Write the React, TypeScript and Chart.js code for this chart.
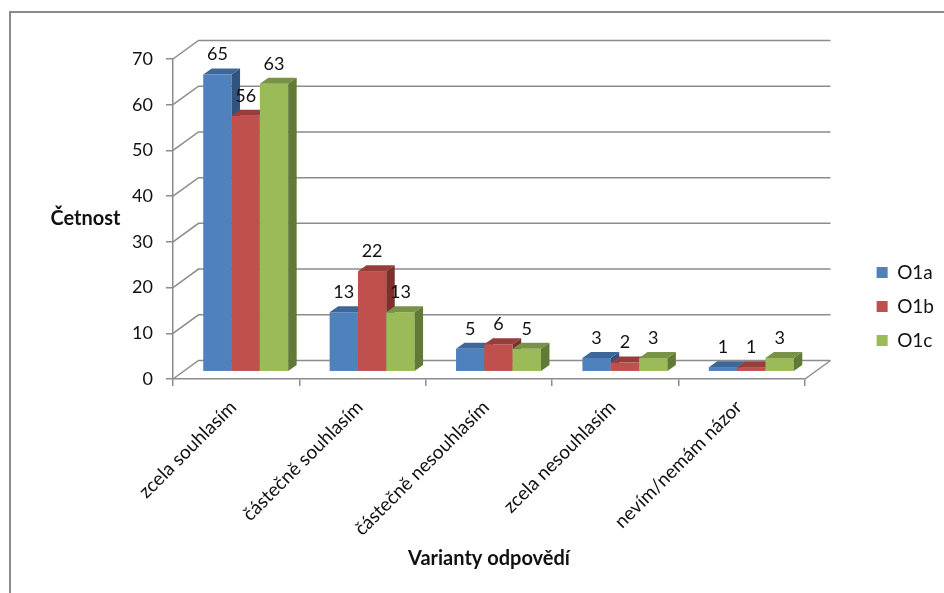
import { useEffect, useRef } from "react";
import { Chart, registerables } from "chart.js";

Chart.register(...registerables);

// ---- data ----
const categories = [
  "zcela souhlasím",
  "částečně souhlasím",
  "částečně nesouhlasím",
  "zcela nesouhlasím",
  "nevím/nemám názor",
];
const seriesLabels = ["O1a", "O1b", "O1c"];
const valuesO1a = [65, 13, 5, 3, 1];
const valuesO1b = [56, 22, 6, 2, 1];
const valuesO1c = [63, 13, 5, 3, 3];
const yMin = 0;
const yMax = 70;
const yStep = 10;
const yTitle = "Četnost";
const xTitle = "Varianty odpovědí";

// ---- styling ----
const FONT_FAMILY = "Lato, 'Noto Sans', sans-serif";
const TEXT = "#111111";
const LINE = "#8c8c8c";
const FRONT = ["#4F81BD", "#C0504D", "#9BBB59"];
const TOP = ["#3C6798", "#973D3A", "#789346"];
const SIDE = ["#31547E", "#7E302D", "#627A37"];

const WALL = { dx: 25.5, dy: -18.5 }; // floor / back wall depth
const BAR_SHIFT = { dx: 9.5, dy: -7.3 }; // columns stand inside the floor
const BAR_DEPTH = { dx: 8.5, dy: -6 }; // column thickness

const W = 944;
const H = 593;
const PLOT = { left: 173, right: 805, top: 59, bottom: 379 };
const PAD = { top: 59, right: 0, bottom: 39, left: 12 };

function fillPoly(ctx: CanvasRenderingContext2D, pts: number[][]) {
  ctx.beginPath();
  ctx.moveTo(pts[0][0], pts[0][1]);
  for (let i = 1; i < pts.length; i++) ctx.lineTo(pts[i][0], pts[i][1]);
  ctx.closePath();
  ctx.fill();
}

const columns3d = {
  id: "columns3d",
  beforeDraw(chart: any) {
    const ctx: CanvasRenderingContext2D = chart.ctx;
    ctx.save();
    ctx.fillStyle = "#ffffff";
    ctx.fillRect(0, 0, chart.width, chart.height);
    ctx.strokeStyle = "#8a8a8a";
    ctx.lineWidth = 2;
    ctx.beginPath();
    ctx.moveTo(10, chart.height);
    ctx.lineTo(10, 12);
    ctx.lineTo(chart.width, 12);
    ctx.stroke();
    ctx.restore();
  },
  beforeDatasetsDraw(chart: any) {
    const ctx: CanvasRenderingContext2D = chart.ctx;
    const xs = chart.scales.x;
    const ys = chart.scales.y;
    ctx.save();

    // back wall gridlines with their diagonals on the side wall
    ctx.strokeStyle = LINE;
    ctx.lineWidth = 1.5;
    for (const t of ys.ticks) {
      const py = ys.getPixelForValue(t.value);
      ctx.beginPath();
      ctx.moveTo(xs.left, py);
      ctx.lineTo(xs.left + WALL.dx, py + WALL.dy);
      ctx.lineTo(xs.right + WALL.dx, py + WALL.dy);
      ctx.stroke();
    }
    const p0 = ys.getPixelForValue(0);
    ctx.beginPath();
    ctx.moveTo(xs.right, p0);
    ctx.lineTo(xs.right + WALL.dx, p0 + WALL.dy);
    ctx.stroke();

    // columns, drawn left to right so each front face covers the previous side
    const metas = chart.data.datasets.map((_: any, i: number) => chart.getDatasetMeta(i));
    const labels: { x: number; y: number; text: string }[] = [];
    for (let c = 0; c < categories.length; c++) {
      metas.forEach((meta: any, s: number) => {
        const el = meta.data[c];
        const { x, y, base, width } = el.getProps(["x", "y", "base", "width"], true);
        const x0 = x - width / 2 + BAR_SHIFT.dx;
        const x1 = x0 + width;
        const top = y + BAR_SHIFT.dy;
        const bot = base + BAR_SHIFT.dy;
        const { dx, dy } = BAR_DEPTH;
        ctx.fillStyle = FRONT[s];
        ctx.fillRect(x0, top, width, bot - top);
        ctx.fillStyle = TOP[s];
        fillPoly(ctx, [[x0, top], [x1, top], [x1 + dx, top + dy], [x0 + dx, top + dy]]);
        ctx.fillStyle = SIDE[s];
        fillPoly(ctx, [[x1, top], [x1 + dx, top + dy], [x1 + dx, bot + dy], [x1, bot]]);
        labels.push({
          x: (x0 + x1) / 2,
          y: top - 20,
          text: String(chart.data.datasets[s].data[c]),
        });
      });
    }

    // value labels
    ctx.fillStyle = TEXT;
    ctx.font = `18px ${FONT_FAMILY}`;
    ctx.textAlign = "center";
    ctx.textBaseline = "middle";
    for (const l of labels) ctx.fillText(l.text, l.x, l.y);

    // axis titles
    ctx.font = `bold 20px ${FONT_FAMILY}`;
    ctx.fillText(yTitle, 85.5, ys.getPixelForValue((yMin + yMax) / 2));
    ctx.fillText(xTitle, (xs.left + xs.right) / 2, 559);

    ctx.restore();
    return false;
  },
};

export default function App() {
  const canvasRef = useRef<HTMLCanvasElement | null>(null);

  useEffect(() => {
    if (!canvasRef.current) return;
    const tickFont = { family: FONT_FAMILY, size: 18 };
    const catFont = { family: FONT_FAMILY, size: 19 };
    const chart = new Chart(canvasRef.current, {
      type: "bar",
      data: {
        labels: categories,
        datasets: [
          { label: seriesLabels[0], data: valuesO1a, backgroundColor: FRONT[0], borderWidth: 0 },
          { label: seriesLabels[1], data: valuesO1b, backgroundColor: FRONT[1], borderWidth: 0 },
          { label: seriesLabels[2], data: valuesO1c, backgroundColor: FRONT[2], borderWidth: 0 },
        ],
      },
      options: {
        responsive: false,
        animation: false,
        devicePixelRatio: 1,
        layout: { padding: PAD },
        datasets: { bar: { categoryPercentage: 0.672, barPercentage: 1 } },
        plugins: {
          legend: {
            position: "right",
            labels: {
              boxWidth: 11,
              boxHeight: 11,
              padding: 15,
              color: TEXT,
              font: catFont,
            },
          },
          tooltip: { enabled: false },
        },
        scales: {
          x: {
            grid: {
              offset: true,
              drawOnChartArea: false,
              tickLength: 7,
              color: LINE,
              lineWidth: 1.5,
            },
            border: { color: LINE, width: 1.5 },
            ticks: {
              minRotation: 45,
              maxRotation: 45,
              autoSkip: false,
              padding: 10,
              labelOffset: -3,
              color: TEXT,
              font: catFont,
            },
            afterFit: (s: any) => {
              s.height = H - PAD.bottom - PLOT.bottom;
            },
          },
          y: {
            min: yMin,
            max: yMax,
            ticks: { stepSize: yStep, padding: 13, color: TEXT, font: tickFont },
            grid: {
              drawOnChartArea: false,
              tickLength: 7,
              color: LINE,
              lineWidth: 1.5,
            },
            border: { color: LINE, width: 1.5 },
            afterFit: (s: any) => {
              s.width = PLOT.left - PAD.left;
            },
          },
          gap: {
            type: "linear",
            position: "right",
            ticks: { display: false },
            grid: { display: false },
            border: { display: false },
            afterFit: (s: any) => {
              const lg = s.chart.legend;
              const legendLeft = lg && lg.width ? W - PAD.right - lg.width : 864;
              s.width = Math.max(0, legendLeft - PLOT.right);
            },
          },
        },
      },
      plugins: [columns3d],
    } as any);
    return () => chart.destroy();
  }, []);

  return (
    <div style={{ position: "absolute", left: 0, top: 0, width: W, height: H }}>
      <canvas ref={canvasRef} width={W} height={H} style={{ display: "block" }} />
    </div>
  );
}
